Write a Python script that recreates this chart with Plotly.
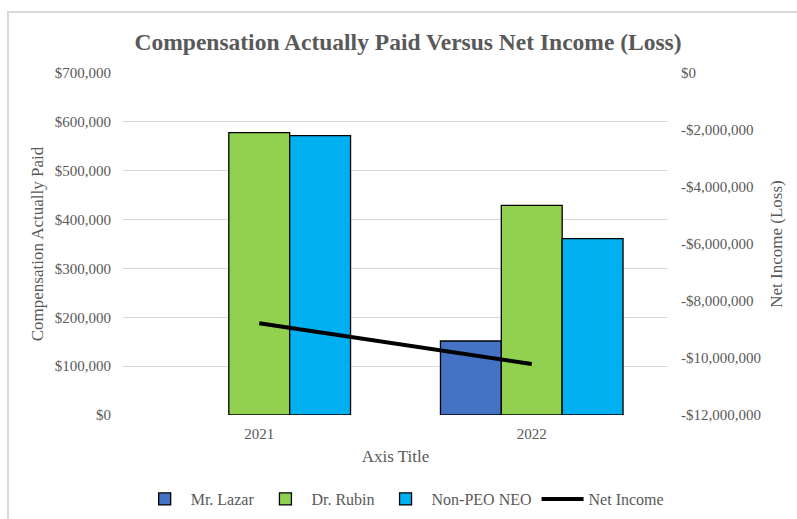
import plotly.graph_objects as go

years = ["2021", "2022"]
lazar = [None, 151500]
rubin = [577800, 429200]
non_peo = [571700, 360900]
net_income = [-8780000, -10210000]

left_ticks = [0, 100000, 200000, 300000, 400000, 500000, 600000, 700000]
left_labels = ["$0", "$100,000", "$200,000", "$300,000", "$400,000", "$500,000", "$600,000", "$700,000"]
right_ticks = [0, -2000000, -4000000, -6000000, -8000000, -10000000, -12000000]
right_labels = ["$0", "-$2,000,000", "-$4,000,000", "-$6,000,000", "-$8,000,000", "-$10,000,000", "-$12,000,000"]

FONT = "Liberation Serif, Times New Roman, serif"
GREY = "#595959"
W, H = 797, 519
L, R, T, B = 123, 129, 73, 104
pw, ph = W - L - R, H - T - B

fig = go.Figure()
outline = dict(color="black", width=1.3)
fig.add_trace(go.Bar(x=years, y=lazar, name="Mr. Lazar", marker=dict(color="#4472C4", line=outline)))
fig.add_trace(go.Bar(x=years, y=rubin, name="Dr. Rubin", marker=dict(color="#92D050", line=outline)))
fig.add_trace(go.Bar(x=years, y=non_peo, name="Non-PEO NEO", marker=dict(color="#00B0F0", line=outline)))
fig.add_trace(go.Scatter(x=years, y=net_income, name="Net Income", mode="lines",
                         line=dict(color="black", width=4), yaxis="y2"))

def px_x(p):
    return (p - L) / pw

def px_y(p):
    return (H - B - p) / ph

fig.update_layout(
    width=W, height=H,
    margin=dict(l=L, r=R, t=T, b=B, autoexpand=False),
    paper_bgcolor="white", plot_bgcolor="white",
    font=dict(family=FONT, color=GREY, size=15),
    barmode="group", bargap=0.33, bargroupgap=0,
    title=dict(text="<b>Compensation Actually Paid Versus Net Income (Loss)</b>",
               x=0.512, xanchor="center", y=1 - 42 / H, yanchor="middle",
               font=dict(family=FONT, size=23.5, color=GREY)),
    xaxis=dict(showgrid=False, showline=False, zeroline=False, ticks="",
               tickfont=dict(size=15, color=GREY), automargin=False, ticklabelstandoff=8,
               title=dict(text="Axis Title", font=dict(size=17, color=GREY), standoff=9)),
    yaxis=dict(range=[0, 700000], tickvals=left_ticks, ticktext=left_labels,
               showgrid=True, gridcolor="#d9d9d9", gridwidth=1, zeroline=False,
               showline=False, ticks="", ticklabelstandoff=11, automargin=False,
               tickfont=dict(size=15, color=GREY),
               title=dict(text="Compensation Actually Paid", font=dict(size=17, color=GREY), standoff=6)),
    yaxis2=dict(range=[-12000000, 0], tickvals=right_ticks, ticktext=right_labels,
                overlaying="y", side="right", showgrid=False, zeroline=False,
                showline=False, ticks="", ticklabelstandoff=12, automargin=False,
                tickfont=dict(size=15, color=GREY),
                title=dict(text="Net Income (Loss)", font=dict(size=17, color=GREY), standoff=10)),
    legend=dict(orientation="h", x=0.515, xanchor="center", yref="container",
                y=1 - 499 / H, yanchor="middle",
                font=dict(size=16, color=GREY), traceorder="normal",
                itemwidth=42, tracegroupgap=0, bgcolor="rgba(0,0,0,0)"),
    shapes=[dict(type="rect", xref="paper", yref="paper",
                 x0=px_x(8), x1=px_x(W + 20), y0=px_y(H + 20), y1=px_y(12),
                 line=dict(color="#d9d9d9", width=2), fillcolor="rgba(0,0,0,0)", layer="below")],
)

fig.write_html("out.html")
